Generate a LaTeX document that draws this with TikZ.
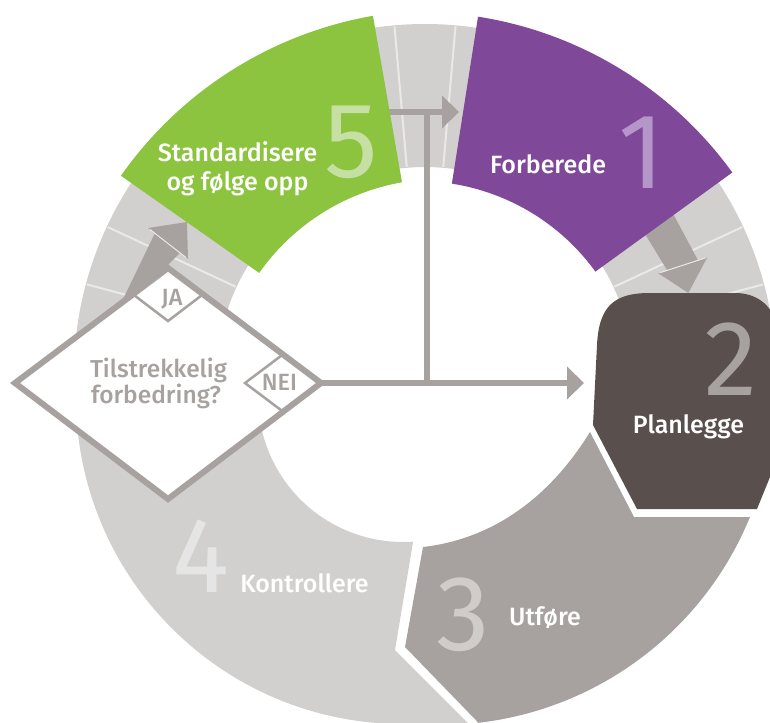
\documentclass[tikz,border=0pt]{standalone}
\usepackage{fontspec}
\IfFontExistsTF{Fira Sans Medium}
  {\setmainfont{Fira Sans Medium}}
  {\setmainfont{Fira Sans}[UprightFeatures={FakeBold=0.6}]}
\IfFontExistsTF{FiraSans-Light.otf}
  {\newfontfamily\numfont{FiraSans-Light.otf}}
  {\newfontfamily\numfont{Fira Sans}}
\usetikzlibrary{arrows.meta}

\definecolor{ringgray}{HTML}{D1D0CF}
\definecolor{midgray}{HTML}{A7A2A0}
\definecolor{darkbrown}{HTML}{594F4C}
\definecolor{leafgreen}{HTML}{8CC43F}
\definecolor{plum}{HTML}{7F4899}
\definecolor{tickwhite}{HTML}{E9E9E9}
\definecolor{numgreen}{HTML}{C6DFA2}
\definecolor{numplum}{HTML}{B497C8}
\definecolor{numthree}{HTML}{CFCCCA}
\definecolor{numfour}{HTML}{E6E5E5}

\tikzset{
  seglabel/.style={text=white, font=\fontsize{25}{30}\selectfont, inner sep=0pt, anchor=base},
  qtext/.style={text=midgray, font=\fontsize{24.5}{30}\selectfont, inner sep=0pt, anchor=base},
  answer/.style={text=midgray, font=\fontsize{23.5}{28}\selectfont, inner sep=0pt, anchor=base},
  bignum/.style={font=\numfont\fontsize{107}{107}\selectfont, inner sep=0pt, anchor=base, text depth=0pt},
  flow/.style={draw=midgray, line width=6pt},
  flowhead/.style={-{Triangle[length=17pt,width=32pt]}},
  smalldia/.style={fill=white, draw=midgray, line width=2.5pt},
}

\begin{document}
\begin{tikzpicture}[x=1pt, y=1pt, yscale=-1]
\useasboundingbox (0,0) rectangle (770,722);
\clip (0,0) rectangle (770,722);
\fill[white] (0,0) rectangle (770,722);

% light grey ring behind the phases, with its radial ticks
\begin{scope}[shift={(425,375)}]
  \fill[ringgray] (178:351) arc[start angle=178, end angle=362, radius=351]
    -- (362:208) arc[start angle=362, end angle=178, radius=208] -- cycle;
  \foreach \a in {185,195,...,355}
    \draw[tickwhite, line width=2pt] (\a:209) -- (\a:350);
\end{scope}

% phase 4: Kontrollere
\fill[ringgray] ([shift={(403,397)}]86:145) arc[start angle=86, end angle=180, radius=145]
  -- ([shift={(403,397)}]180:327) arc[start angle=180, end angle=90, radius=327]
  -- (480,735) -- (395,650) -- cycle;

% phase 3: Utfore
\fill[midgray] (590,432) -- (634,517)
  -- ([shift={(440,390)}]22.3:335) arc[start angle=22.3, end angle=85, radius=335]
  -- (500,745) -- (405,647) -- (423,547)
  .. controls (485,540) and (545,505) .. (590,432) -- cycle;

% phase 2: Planlegge
\fill[darkbrown] (593,425) -- (597,345)
  .. controls (599,305) and (615,293) .. (650,293) -- (735,293)
  .. controls (755,293) and (768,303) .. (775,318)
  -- (785,440) -- (757,509) -- (637,509) -- cycle;

% connectors of the decision
\coordinate (dL) at (15,383);
\coordinate (dT) at (168,268);
\coordinate (dR) at (321,383);
\coordinate (dB) at (168,499);
\coordinate (nj) at (427,383);
\coordinate (jt) at (427,112);
\coordinate (g5) at (385,112);
\coordinate (p1) at (459,112);
\coordinate (s2) at (584,383);

\draw[flow] (nj) -- (jt);
\draw[flow, flowhead] (dR) -- (s2);
\draw[flow, flowhead] (g5) -- (p1);

% block arrow JA -> phase 5
\fill[midgray] (119.5,306.5) -- (155,233) -- (148,228) -- (187,222)
  -- (188,259) -- (180,253) -- (126.5,305.5) -- cycle;
\draw[tickwhite, line width=1pt] (150,229.5) -- (186,257.5);

% block arrow phase 1 -> phase 2
\fill[midgray] (638.5,223.4) -- (667.3,270.4) -- (658.3,273.3) -- (688.3,293)
  -- (707.3,257.3) -- (698,260.3) -- (665.7,200) -- cycle;
\draw[tickwhite, line width=1pt] (660,272.7) -- (705.5,257.9);

% phase 5: Standardisere og folge opp
\fill[leafgreen, shift={(440,400)}] (215.1:390) arc[start angle=215.1, end angle=260.1, radius=390]
  -- (260.1:221) arc[start angle=260.1, end angle=215.1, radius=221] -- cycle;

% phase 1: Forberede
\fill[plum, shift={(418,400)}] (278.9:388) arc[start angle=278.9, end angle=324.1, radius=388]
  -- (324.1:219) arc[start angle=324.1, end angle=278.9, radius=219] -- cycle;

% decision diamond
\fill[white] (dL) -- (dT) -- (dR) -- (dB) -- cycle;
\filldraw[smalldia] (dT) -- (133,294.3) -- (168,321) -- (203,294.3) -- cycle;
\filldraw[smalldia] (dR) -- (283,354.4) -- (245,383) -- (283,411.6) -- cycle;
\draw[midgray, line width=6pt, line join=miter] (dL) -- (dT) -- (dR) -- (dB) -- cycle;

% phase numbers
\node[bignum, numgreen] (n5) at (351,177) {5};
\node[bignum, numplum] (n1) at (642,189) {1};
\node[bignum, midgray] (n2) at (731,395) {2};
\node[bignum, numthree] (n3) at (463,650) {3};
\node[bignum, numfour] (n4) at (201,592) {4};

% phase names
\node[seglabel] (t5a) at (237.5,162) {Standardisere};
\node[seglabel] (t5b) at (237.5,190) {og følge opp};
\node[seglabel] (t1) at (548,173) {Forberede};
\node[seglabel] (t2) at (688.5,433) {Planlegge};
\node[seglabel] (t3) at (545,625) {Utføre};
\node[seglabel] (t4) at (304.5,592) {Kontrollere};

% decision texts
\node[qtext] (q1) at (158.5,377) {Tilstrekkelig};
\node[qtext] (q2) at (156,403) {forbedring?};
\node[answer] (ja) at (172,305) {JA};
\node[answer] (nei) at (279.5,390) {NEI};
\end{tikzpicture}
\end{document}
